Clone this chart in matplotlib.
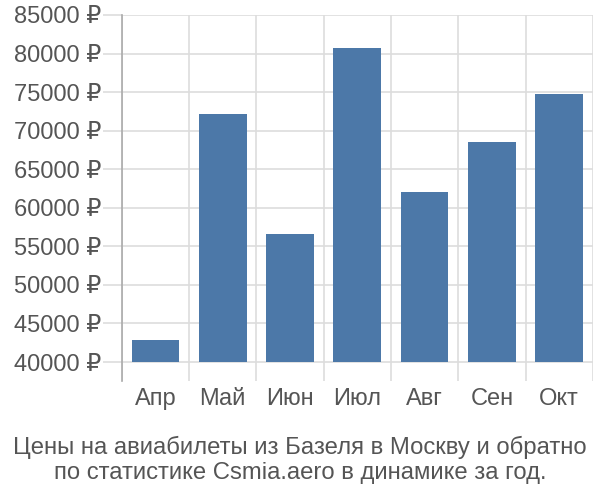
import matplotlib
matplotlib.use('Agg')
import matplotlib.pyplot as plt
import numpy as np

plt.rcParams['font.family'] = ['Liberation Sans', 'DejaVu Sans']

months = ['Апр', 'Май', 'Июн', 'Июл', 'Авг', 'Сен', 'Окт']
prices = [42850, 72100, 56600, 80700, 62000, 68500, 74700]
yticks = list(range(40000, 85001, 5000))
base = 40000

grid_c = '#dddddd'
text_c = '#555555'

fig = plt.figure(figsize=(6, 5), dpi=100)
ax = fig.add_axes([0.203, 0.238, 0.785, 0.732])

x = np.arange(len(months))
ax.bar(x, [p - base for p in prices], bottom=base, width=0.71, color='#4c78a8', zorder=3)

ax.set_xlim(-0.5, len(months) - 0.5)
ax.set_ylim(37540, 85000)
ax.set_yticks(yticks)
ax.set_yticklabels([f'{v} ₽' for v in yticks])
ax.set_xticks(x)
ax.set_xticklabels(months)
ax.set_xticks(np.arange(-0.5, len(months)), minor=True)

ax.grid(axis='y', color=grid_c, linewidth=1.2, zorder=0)
ax.grid(axis='x', which='minor', color=grid_c, linewidth=1.2, zorder=0)
ax.tick_params(axis='y', length=14, width=1.2, color=grid_c, labelsize=17, labelcolor=text_c, pad=1)
ax.tick_params(axis='x', which='major', length=0, labelsize=17, labelcolor=text_c, pad=5)
ax.tick_params(axis='x', which='minor', length=0)

for s in ['top', 'right', 'bottom']:
    ax.spines[s].set_visible(False)
ax.spines['left'].set_color('#aaaaaa')
ax.spines['left'].set_linewidth(1.2)

fig.text(0.5, 0.08, 'Цены на авиабилеты из Базеля в Москву и обратно\nпо статистике Csmia.aero в динамике за год.',
         ha='center', va='center', fontsize=17.2, color=text_c, linespacing=1.2)

fig.savefig('out.png', dpi=100)
